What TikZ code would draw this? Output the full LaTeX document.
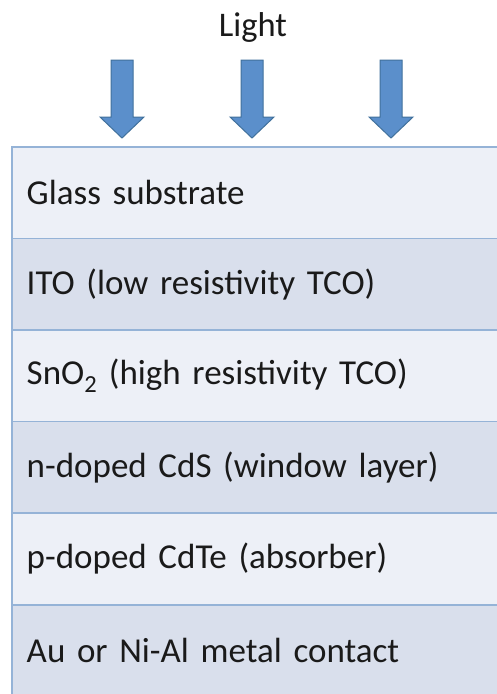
\documentclass[tikz,border=0pt]{standalone}
\usepackage{fontspec}
\setmainfont{Carlito}
\definecolor{rowlight}{HTML}{EDF0F7}
\definecolor{rowdark}{HTML}{D9DFEC}
\definecolor{rowline}{HTML}{95B3D7}
\definecolor{arrfill}{HTML}{5B8FCB}
\definecolor{arredge}{HTML}{41719C}
\definecolor{txt}{HTML}{1A1A1A}
\tikzset{
  layer/.style={anchor=north west, minimum width=500pt, minimum height=91.6pt,
    text width=470pt, align=left, inner xsep=11pt, inner ysep=0pt, draw=rowline,
    line width=1.5pt, text=txt, font=\fontsize{35}{40}\selectfont},
  lightarrow/.style={fill=arrfill, draw=arredge, line width=1pt, line join=miter},
}
\begin{document}
\begin{tikzpicture}[x=1pt,y=-1pt]
\useasboundingbox (0,0) rectangle (496,694);
\fill[white] (0,0) rectangle (496,694);
\node[font=\fontsize{34.5}{40}\selectfont, text=txt, anchor=base] (light) at (253,36.5) {Light};
\foreach \c in {122,252,391}{
  \draw[lightarrow] (\c-11,60) -- (\c+11,60) -- (\c+11,117) -- (\c+22,117) -- (\c,138)
    -- (\c-22,117) -- (\c-11,117) -- cycle;
}
\node[layer, fill=rowlight] (l1) at (11,146) {Glass substrate};
\node[layer, fill=rowdark]  (l2) at (11,237.6) {ITO (low resistivity TCO)};
\node[layer, fill=rowlight] (l3) at (11,329.2) {SnO\textsubscript{2} (high resistivity TCO)};
\node[layer, fill=rowdark]  (l4) at (11,420.8) {n-doped CdS (window layer)};
\node[layer, fill=rowlight] (l5) at (11,512.4) {p-doped CdTe (absorber)};
\node[layer, fill=rowdark]  (l6) at (11,604) {Au or Ni-Al metal contact};
\end{tikzpicture}
\end{document}
